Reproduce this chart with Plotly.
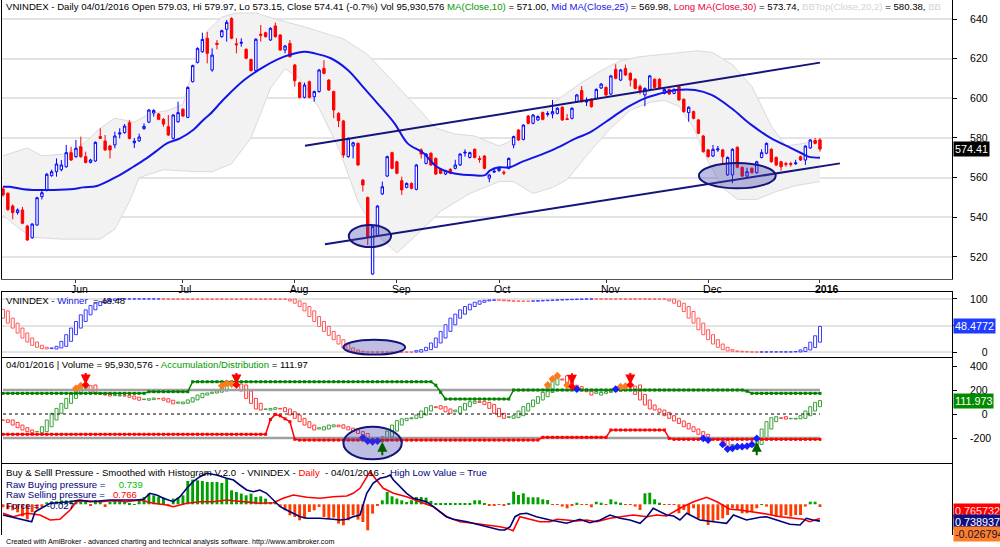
import plotly.graph_objects as go

# ---------------- price panel data (bar index 0 = first session shown) ----------------
price_open = [
    554.3, 552.1, 545.7, 542.4, 543.7, 535.6, 529.7, 536.1, 550.4, 553.8,
    561.0, 563.0, 564.0, 565.5, 572.6, 570.6, 575.6, 570.6, 567.7, 568.4,
    580.7, 578.5, 576.0, 576.5, 582.0, 582.7, 587.7, 577.6, 578.6, 584.7,
    588.0, 592.6, 592.1, 589.4, 585.7, 579.8, 588.2, 594.5, 590.4, 608.4,
    618.1, 623.5, 630.3, 614.3, 627.8, 631.1, 634.8, 640.3, 627.5, 627.8,
    624.7, 619.6, 614.0, 632.3, 633.1, 629.4, 636.5, 631.9, 624.4, 627.7,
    616.8, 607.9, 600.5, 608.4, 600.8, 603.4, 615.1, 609.2, 603.4, 592.4,
    588.6, 570.6, 576.0, 577.3, 558.8, 550.0, 511.4, 530.6, 551.8, 560.8,
    572.6, 568.0, 558.5, 555.1, 557.1, 554.1, 574.0, 567.2, 572.3, 569.7,
    564.2, 561.8, 564.2, 564.7, 566.4, 572.4, 570.2, 574.3, 569.6, 570.9,
    559.7, 562.8, 563.5, 562.7, 564.7, 576.5, 584.0, 579.3, 591.1, 587.4,
    589.1, 592.8, 591.9, 592.1, 592.4, 595.5, 589.7, 589.9, 598.3, 603.9,
    598.1, 599.5, 600.0, 605.2, 605.5, 602.2, 614.6, 609.2, 615.1, 612.6,
    609.6, 606.0, 601.7, 604.5, 609.6, 609.6, 602.5, 604.5, 602.5, 605.9,
    599.5, 592.8, 593.3, 589.1, 581.0, 574.0, 570.9, 574.0, 574.0, 561.4,
    561.4, 575.3, 565.2, 560.8, 564.7, 562.5, 570.2, 572.3, 574.3, 570.2,
    568.0, 567.1, 567.1, 567.0, 570.6, 568.9, 575.0, 578.7, 579.03,
]
price_high = [
    555.4, 552.6, 546.5, 544.5, 545.3, 536.2, 537.0, 550.3, 554.0, 562.4,
    564.0, 569.7, 568.9, 576.5, 575.6, 579.0, 580.7, 573.1, 569.5, 578.3,
    584.9, 581.5, 576.5, 583.2, 584.9, 587.0, 589.0, 580.0, 582.2, 587.4,
    594.6, 594.5, 592.6, 590.0, 591.6, 592.0, 598.3, 595.0, 606.0, 617.0,
    625.7, 633.1, 633.5, 625.2, 629.4, 634.6, 639.5, 640.8, 630.3, 630.3,
    625.2, 620.1, 630.3, 637.0, 633.6, 635.8, 638.2, 632.4, 626.9, 629.4,
    617.3, 608.4, 607.9, 608.9, 603.9, 614.8, 619.2, 609.7, 603.9, 593.0,
    589.1, 580.3, 578.1, 577.8, 559.3, 550.5, 535.8, 546.2, 558.0, 571.1,
    573.1, 568.5, 560.5, 557.6, 557.6, 566.9, 574.8, 572.4, 572.8, 570.2,
    564.7, 564.0, 564.7, 569.0, 572.4, 574.3, 573.1, 574.8, 571.0, 571.4,
    561.8, 565.0, 565.2, 563.7, 570.2, 581.2, 584.5, 587.0, 591.6, 592.1,
    591.3, 593.3, 593.5, 599.2, 595.5, 596.0, 592.1, 595.5, 602.2, 606.2,
    600.5, 600.0, 605.0, 607.7, 606.0, 611.8, 617.2, 614.8, 617.0, 613.1,
    610.1, 607.0, 605.5, 611.8, 610.1, 610.1, 605.0, 605.0, 605.0, 606.4,
    600.0, 596.0, 593.8, 589.6, 581.5, 574.5, 576.5, 576.0, 574.5, 570.7,
    574.8, 575.8, 565.7, 565.0, 565.2, 568.5, 574.3, 577.8, 574.8, 570.7,
    568.5, 568.0, 568.0, 569.0, 571.1, 576.4, 579.5, 580.0, 579.97,
]
price_low = [
    550.4, 543.2, 539.0, 541.4, 536.5, 528.0, 529.2, 535.8, 549.0, 553.0,
    560.5, 560.5, 563.2, 565.0, 568.4, 570.0, 570.0, 567.2, 567.2, 568.0,
    579.5, 573.5, 569.7, 574.8, 579.8, 582.2, 579.3, 575.0, 578.0, 584.2,
    587.5, 590.8, 589.0, 585.7, 581.0, 579.3, 587.7, 590.6, 590.0, 608.0,
    617.6, 623.0, 617.6, 613.4, 624.7, 630.6, 628.6, 629.8, 622.7, 626.0,
    619.7, 613.5, 613.5, 628.6, 630.6, 628.9, 630.6, 623.9, 622.7, 620.5,
    605.9, 600.0, 600.0, 600.0, 598.3, 602.9, 612.1, 603.7, 590.0, 585.5,
    570.0, 570.1, 569.7, 565.9, 553.0, 526.0, 511.0, 530.1, 551.3, 560.3,
    564.2, 561.7, 551.3, 554.6, 554.1, 553.6, 569.7, 566.7, 565.9, 561.3,
    561.7, 561.3, 561.7, 564.2, 565.9, 570.6, 569.7, 569.7, 567.5, 564.2,
    557.7, 562.3, 563.0, 561.3, 564.2, 574.8, 578.5, 578.8, 586.9, 586.9,
    588.6, 588.9, 590.8, 589.9, 591.9, 588.6, 589.1, 589.4, 597.8, 597.8,
    596.1, 595.3, 599.5, 604.7, 601.2, 601.7, 609.6, 608.7, 611.3, 606.0,
    604.5, 602.0, 596.0, 604.0, 605.0, 604.5, 602.0, 601.7, 602.0, 598.7,
    592.8, 588.2, 589.4, 581.9, 572.6, 570.1, 570.4, 573.0, 566.4, 560.9,
    557.2, 564.7, 560.3, 560.3, 562.0, 562.0, 569.7, 571.8, 567.5, 565.9,
    563.5, 565.5, 565.5, 566.5, 568.4, 566.4, 574.5, 576.8, 573.15,
]
price_close = [
    551.3, 544.0, 542.4, 543.7, 537.0, 528.6, 536.6, 549.9, 552.4, 561.7,
    563.0, 566.9, 566.4, 572.6, 568.9, 574.8, 570.6, 567.7, 568.9, 577.8,
    579.8, 574.0, 574.0, 581.0, 582.5, 586.0, 579.8, 578.4, 580.5, 585.9,
    594.1, 593.9, 589.4, 587.0, 581.5, 591.6, 592.8, 591.1, 605.5, 616.5,
    625.2, 629.7, 622.7, 621.8, 627.2, 634.1, 638.3, 630.3, 627.0, 628.2,
    620.2, 614.0, 629.8, 631.8, 631.1, 635.3, 631.1, 624.4, 626.4, 621.0,
    608.9, 600.5, 606.7, 600.5, 603.4, 614.3, 612.6, 604.2, 594.1, 588.7,
    571.4, 579.8, 577.6, 566.4, 556.3, 530.3, 535.3, 545.7, 555.4, 570.6,
    564.7, 562.2, 553.8, 557.1, 554.6, 566.4, 571.9, 571.9, 566.4, 561.8,
    562.2, 563.5, 562.2, 566.4, 571.9, 572.8, 572.6, 570.2, 569.2, 564.7,
    561.3, 563.2, 564.7, 562.3, 569.7, 580.7, 579.0, 586.5, 587.4, 591.6,
    590.8, 589.4, 592.3, 593.3, 595.0, 589.1, 589.3, 595.0, 601.7, 598.3,
    598.5, 595.8, 604.5, 607.2, 601.7, 611.3, 610.1, 614.3, 611.8, 609.2,
    605.0, 604.0, 605.0, 611.3, 605.5, 605.0, 604.5, 602.2, 604.5, 599.2,
    593.3, 595.5, 589.9, 582.4, 573.1, 570.6, 574.3, 574.5, 570.6, 570.2,
    574.3, 565.2, 560.8, 563.0, 562.5, 568.0, 572.6, 577.3, 568.0, 566.4,
    565.5, 566.7, 566.7, 567.4, 568.9, 575.9, 579.0, 577.3, 574.41,
]

# Mid MA(Close,25) read at points along the curve
mid_ma_idx = [0, 1.4, 4.2, 6.2, 13.8, 16.5, 19.3, 23.4, 26.8, 29.5,
              31.6, 33.7, 36.4, 39.1, 41.2, 42.6, 45.6, 49.6, 53.7, 57.8,
              61.9, 64, 67.4, 70.9, 74.3, 77, 80.5, 83.2, 86.5, 89.2,
              92.6, 96, 99.1, 100.1, 102, 104.1, 106.8, 109.6, 113.7, 117.8,
              120.6, 124, 126.7, 128.6, 132, 134.8, 138.5, 142.3, 145.7, 149.8,
              153.9, 158, 161.5, 164.2, 165.6, 168]
mid_ma = [555.4, 555.4, 554.1, 553.8, 554.1, 555.1, 555.8, 560.5, 565.5, 569.7,
          573.5, 577.3, 579.8, 584.0, 589.1, 592.1, 600.0, 609.2, 616.0, 621.0,
          623.5, 622.7, 620.2, 614.3, 605.0, 597.5, 587.4, 577.3, 572.3, 565.5,
          562.2, 561.3, 561.3, 563.5, 565.2, 565.2, 568.1, 570.6, 574.8, 579.8,
          582.7, 588.2, 592.8, 595.8, 600.0, 602.2, 604.2, 604.2, 601.7, 595.0,
          586.6, 579.8, 575.6, 572.3, 570.6, 569.98]

# Bollinger band edges
bb_top_idx = [0, 5, 8, 13, 17, 20, 23, 27, 30, 34, 37, 39, 42, 45, 48, 52, 56, 59, 62, 66,
              70, 75, 80, 85, 89, 93, 97, 102, 104, 107, 111, 115, 119, 123, 127, 131, 135,
              139, 143, 146, 150, 154, 158, 161, 164, 168]
bb_top = [571, 575, 571, 572, 578, 585, 590, 588, 592, 594, 597, 614, 634, 641, 643, 643, 640, 638, 636, 633,
          630, 622, 609, 596, 585, 582, 581, 576, 578, 585, 594, 601, 608, 614, 619, 621, 622,
          623, 624, 623, 617, 606, 586, 576, 577, 579]
bb_bot_idx = [0, 3, 6, 12, 20, 23, 26, 28, 33, 40, 43, 47, 51, 55, 58, 61, 65, 69, 73, 77,
              81, 85, 90, 96, 102, 105, 109, 113, 116, 121, 125, 129, 133, 136, 139, 142, 145,
              148, 151, 155, 159, 163, 168]
bb_bot = [541, 535, 530, 529, 529, 534, 548, 560, 564, 563, 563, 567, 580, 605, 615, 610, 595, 575, 548, 531,
          522, 531, 543, 552, 558, 558, 552, 555, 559, 574, 585, 594, 598, 599, 596, 585, 568,
          555, 549, 549, 553, 556, 558]

# hand-drawn channel lines and ellipses (bar index, price)
upper_trend_idx = [62.1, 168]
upper_trend = [576.1, 618.0]
lower_trend_idx = [66.2, 172.1]
lower_trend = [526.4, 567.2]
price_ellipses = [(71.1, 79.8, 525.0, 536.1), (143.1, 158.9, 554.6, 567.4)]

# ---------------- Winner panel ----------------
winner_start = [80.5, 77.6]
winner = [
    64, 54.7, 45.4, 36.1, 26.8, 19.3, 13.1, 9.4, 6.9, 6.3,
    8.2, 11.3, 20.6, 33, 45.4, 57.8, 70.2, 79.5, 87.6, 92,
    95, 96.9, 98.8, 100, 100, 100, 100, 100, 100, 100,
    100, 100, 100, 99.7, 99.7, 99.7, 99.7, 99.7, 99.7, 99.7,
    99.7, 99.7, 99.7, 99.7, 99.7, 99.7, 99.7, 99.7, 99.7, 99.7,
    99.7, 99.7, 99.7, 99.7, 99.7, 99.7, 99.7, 99.7, 99.7, 96.3,
    92, 85.8, 77.7, 67.1, 57.8, 48.5, 39.2, 31.8, 23.7, 15.6,
    8.2, 4.4, 2, 0.7, 0.5, 0.5, 0.5, 0.5, 0.5, 0.5,
    0.5, 0.5, 0.5, 0.5, 0.5, 3.2, 5, 9.4, 17.5, 26.8,
    39.2, 51.6, 64, 71.5, 79.5, 85.8, 90.1, 93.8, 96.3, 97.5,
    98.2, 98.2, 97.5, 96.5, 96.0, 95.8, 95.8, 95.8, 95.8, 96.3,
    96.8, 97.2, 97.6, 98.0, 98.4, 98.7, 99.0, 99.3, 99.6, 99.8,
    100, 100, 99.8, 99.8, 99.8, 99.8, 99.8, 99.8, 99.8, 99.8,
    99.8, 99.8, 99.8, 99.8, 99.8, 99.8, 99.8, 96.3, 92, 85.8,
    76.5, 64, 54.7, 42.3, 33, 23.7, 15.6, 9.4, 5, 2.6,
    2, 1.3, 0.8, 0.6, 0.5, 0.5, 0.8, 0.8, 0.8, 0.8,
    0.8, 0.8, 0.8, 1.5, 4.5, 9, 19, 31, 48.48,
]
winner_ellipse = (70, 82.7, -4.3, 23.6)

# ---------------- Volume / Accumulation-Distribution panel ----------------
ad_start = [-52, -48]
acc_dist = [
    -50, -70, -92, -114, -133, -147, -156, -147, -106, -50,
    6, 47, 89, 130, 172, 214, 236, 242, 178, 172,
    165, 158, 150, 153, 156, 150, 140, 125, 115, 120,
    128, 133, 128, 115, 100, 85, 90, 100, 118, 136,
    158, 172, 175, 182, 192, 236, 256, 250, 242, 192,
    130, 89, 42, 33, 39, 47, 53, 42, 19, -8,
    -36, -64, -92, -114, -133, -125, -106, -92, -90, -106,
    -118, -132, -146, -162, -197, -225, -231, -225, -189, -142,
    -92, -55, -40, -36, -31, -8, 25, 53, 69, 61,
    42, 19, 6, 33, 61, 89, 103, 106, 97, 80,
    47, 6, -22, -36, -30, -14, 25, 61, 89, 117,
    144, 180, 242, 292, 319, 283, 240, 228, 208, 192,
    186, 158, 172, 180, 186, 192, 208, 228, 232, 242,
    164, 117, 75, 42, 33, 14, -14, -36, -58, -78,
    -106, -125, -147, -169, -203, -217, -203, -208, -253, -292,
    -286, -272, -272, -267, -253, -203, -125, -64, -31, -22,
    -36, -42, -40, -36, -14, 25, 61, 97, 111.97,
]
ad_upper = [
    172, 172, 172, 172, 172, 172, 172, 172, 172, 172,
    172, 172, 172, 172, 172, 172, 172, 172, 172, 172,
    172, 172, 172, 172, 172, 172, 172, 172, 172, 172,
    186, 186, 186, 186, 186, 186, 186, 186, 186, 269,
    269, 269, 269, 269, 269, 269, 269, 269, 269, 269,
    269, 269, 269, 269, 269, 269, 269, 269, 269, 269,
    269, 269, 269, 269, 269, 269, 269, 269, 269, 269,
    269, 269, 269, 269, 269, 269, 269, 269, 269, 269,
    269, 269, 269, 269, 269, 269, 269, 269, 269, 240,
    180, 125, 125, 125, 125, 125, 125, 125, 125, 125,
    125, 125, 125, 125, 125, 200, 200, 200, 200, 200,
    200, 200, 200, 200, 200, 200, 200, 200, 200, 200,
    200, 200, 200, 200, 200, 200, 200, 200, 200, 200,
    200, 200, 200, 200, 200, 200, 200, 200, 200, 200,
    200, 200, 200, 200, 200, 200, 200, 200, 200, 200,
    200, 200, 200, 190, 172, 172, 172, 172, 172, 172,
    172, 172, 172, 172, 172, 172, 172, 172, 172,
]
ad_lower = [
    -169, -169, -169, -169, -169, -169, -169, -169, -169, -169,
    -169, -169, -169, -169, -169, -169, -169, -169, -169, -169,
    -169, -169, -169, -169, -169, -169, -169, -169, -169, -169,
    -169, -169, -169, -169, -169, -169, -169, -169, -169, -169,
    -169, -169, -169, -169, -169, -169, -169, -169, -169, -169,
    -169, -169, -169, -169, -169, -45, -3, -15, -40, -64,
    -210, -217, -217, -217, -217, -217, -217, -217, -217, -217,
    -217, -217, -217, -217, -217, -217, -217, -217, -217, -217,
    -217, -217, -217, -217, -217, -217, -217, -217, -217, -217,
    -217, -217, -217, -217, -217, -217, -217, -217, -217, -217,
    -217, -217, -217, -217, -217, -217, -217, -217, -217, -217,
    -217, -194, -194, -194, -194, -194, -194, -194, -194, -194,
    -194, -194, -194, -194, -194, -133, -133, -133, -133, -133,
    -133, -133, -133, -133, -133, -133, -133, -203, -211, -211,
    -211, -211, -211, -211, -211, -211, -211, -211, -211, -211,
    -211, -211, -211, -211, -211, -211, -211, -211, -211, -211,
    -211, -211, -211, -211, -211, -211, -211, -211, -211,
]
orange_dot_idx = [15, 16, 45, 46, 47, 112, 113, 114, 116, 127, 128]
blue_dot_idx = [74, 75, 76, 77, 118, 126, 144, 145, 148, 149, 150, 151, 152, 153, 154, 155]
sell_arrow_idx = [17, 48, 117, 129]
sell_arrow_tip = [246, 246, 244, 246]
buy_arrow_idx = [78, 155]
buy_arrow_tip = [-230, -230]
ad_ellipse = (70, 82, -377, -106)

# ---------------- Buy & Sell pressure panel ----------------
force = [
    -0.03, -0.05, -0.06, -0.08, -0.12, -0.15, -0.08, -0.05, -0.03, 0.02,
    0.03, 0.03, 0.04, 0.04, 0.04, 0.04, 0.04, 0.04, -0.01, 0.04,
    0.023, -0.027, 0.023, 0.04, 0.04, 0.023, 0.013, 0.003, 0.04, 0.073,
    0.107, 0.09, 0.073, 0.067, -0.02, 0.057, 0.067, 0.09, 0.233, 0.247,
    0.24, 0.233, 0.223, 0.223, 0.223, 0.213, 0.257, 0.14, 0.123, 0.107,
    0.09, 0.107, 0.073, 0.08, 0.057, 0.023, 0.023, -0.027, -0.06, -0.11,
    -0.127, -0.16, -0.143, -0.077, -0.06, -0.027, -0.127, -0.143, -0.133, -0.193,
    -0.21, -0.16, -0.11, -0.153, -0.177, -0.26, -0.093, -0.01, 0.04, 0.123,
    0.08, 0.057, 0.04, 0.023, 0.04, 0.073, 0.073, 0.067, 0.033, 0.007,
    0.013, 0.013, 0.013, 0.013, 0.013, 0.013, 0.007, 0.04, 0.04, 0.013,
    -0.01, -0.01, -0.007, -0.017, 0.01, 0.127, 0.093, 0.11, 0.07, 0.07,
    0.07, 0.05, 0.043, -0.007, -0.007, -0.023, -0.04, -0.017, 0.016, -0.007,
    -0.007, -0.03, 0.026, 0.016, -0.007, 0.05, 0.026, 0.016, -0.007, -0.007,
    -0.023, -0.057, 0.11, 0.116, 0.05, 0.016, -0.003, -0.003, -0.003, -0.09,
    -0.057, -0.097, -0.04, -0.14, -0.157, -0.207, -0.173, -0.157, -0.14, -0.107,
    -0.04, -0.057, -0.09, -0.09, -0.073, -0.04, 0.003, -0.023, -0.107, -0.123,
    -0.123, -0.107, -0.123, -0.107, -0.107, -0.023, 0.026, 0.026, -0.027,
]
buy_idx = [0, 2.1, 4.9, 5.9, 6.6, 9.7, 13.8, 15.8, 17.9, 19.9,
           22, 27.5, 28.9, 30.2, 31.6, 33, 35, 36.4, 37.8, 39.1,
           40.5, 41.9, 43.9, 46, 47.4, 48.7, 50.1, 51.5, 52.8, 54.2,
           55.6, 57, 58.3, 59.7, 61.1, 62.5, 65.2, 67.9, 69.3, 70.7,
           72, 73.4, 74.1, 74.8, 76.1, 77.5, 78.9, 79.6, 80.3, 81.6,
           83, 84.4, 85.7, 87.1, 88.5, 89.9, 91.2, 92.6, 95.4, 98.1,
           100.8, 102.2, 103.2, 104.3, 105.3, 106.3, 107.7, 109.7, 112.5, 115.9,
           118.6, 120.7, 122.8, 124.8, 126.9, 128.9, 131, 132.4, 133.7, 135.1,
           136.5, 137.9, 139.2, 140.6, 142, 143.3, 146.1, 148.8, 150.2, 152.9,
           155.7, 157, 159.1, 161.8, 163.9, 165.2, 166.6, 168]
buy_pressure = [0.80, 0.777, 0.75, 0.733, 0.833, 0.917, 0.933, 0.95, 0.933, 0.943,
                0.95, 0.95, 0.957, 1.017, 1.0, 0.967, 0.933, 0.983, 1.067, 1.133,
                1.183, 1.217, 1.2, 1.167, 1.15, 1.1, 1.05, 1.033, 1.05, 1.017,
                0.95, 0.883, 0.85, 0.817, 0.783, 0.767, 0.767, 0.757, 0.75, 0.757,
                0.783, 0.80, 0.917, 1.017, 1.117, 1.167, 1.183, 1.2, 1.15, 1.083,
                1.017, 0.967, 0.95, 0.933, 0.883, 0.833, 0.783, 0.757, 0.733, 0.70,
                0.667, 0.65, 0.65, 0.683, 0.783, 0.81, 0.817, 0.783, 0.75, 0.717,
                0.757, 0.723, 0.75, 0.80, 0.767, 0.75, 0.717, 0.783, 0.867, 0.833,
                0.80, 0.79, 0.75, 0.817, 0.783, 0.75, 0.733, 0.717, 0.80, 0.75,
                0.777, 0.783, 0.75, 0.707, 0.70, 0.767, 0.75, 0.739]
sell_idx = [0, 2.1, 4.9, 7.6, 9.7, 11.7, 13.8, 15.1, 17.2, 19.9,
            22.7, 25.4, 28.2, 30.9, 33.7, 35, 37.8, 40.5, 43.2, 46,
            47.4, 50.1, 52.8, 55.6, 57.6, 59.7, 62.5, 65.2, 67.9, 70.7,
            72, 73.4, 74.8, 75.5, 76.8, 78.2, 80.3, 83, 85.7, 88.5,
            91.2, 94, 96.7, 99.5, 102.2, 103.6, 104.9, 106.3, 107.7, 110.4,
            112.5, 113.9, 115.9, 118, 120, 122.1, 124.8, 126.9, 129.6, 132.4,
            134.4, 136.5, 139.2, 142, 144.7, 146.8, 149.5, 151.5, 154.3, 157,
            159.8, 162.5, 164.6, 165.9, 168]
sell_pressure = [0.817, 0.783, 0.817, 0.80, 0.75, 0.757, 0.85, 0.933, 0.943, 0.933,
                 0.943, 0.933, 0.95, 0.917, 0.90, 0.883, 0.917, 0.933, 0.933, 0.95,
                 0.943, 0.933, 0.917, 0.923, 0.967, 1.0, 0.977, 0.967, 0.983, 0.99,
                 1.017, 1.067, 1.183, 1.233, 1.15, 1.067, 1.017, 0.983, 0.933, 0.883,
                 0.783, 0.733, 0.717, 0.70, 0.683, 0.667, 0.643, 0.783, 0.767, 0.733,
                 0.733, 0.757, 0.75, 0.74, 0.75, 0.733, 0.767, 0.783, 0.80, 0.783,
                 0.80, 0.79, 0.867, 0.933, 0.977, 0.933, 0.857, 0.85, 0.833, 0.81,
                 0.783, 0.767, 0.757, 0.733, 0.766]

# month ticks
month_idx = [15, 37, 60, 81, 102, 124, 145, 168]
month_text = ["Jun", "Jul", "Aug", "Sep", "Oct", "Nov", "Dec", "<b>2016</b>"]

bars = list(range(len(price_close)))
FONT = "Liberation Sans, Arial, sans-serif"


def box_parts(values, start, up_color, down_color):
    # hollow boxes spanning two sessions back to the current value, coloured by direction
    seq = list(start) + list(values)
    bases, heights, colors = [], [], []
    last = down_color
    for i, v in enumerate(values):
        prev1, prev2 = seq[i + 1], seq[i]
        if v > prev1:
            last = up_color
        elif v < prev1:
            last = down_color
        bases.append(min(prev2, v))
        heights.append(abs(v - prev2))
        colors.append(last)
    return bases, heights, colors


def path_of(xs, ys, close=False):
    pts = " L ".join(f"{x},{y}" for x, y in zip(xs, ys))
    return "M " + pts + (" Z" if close else "")


fig = go.Figure()

# ---- panel 1: price ----
fig.add_trace(go.Candlestick(x=bars, open=price_open, high=price_high, low=price_low,
                             close=price_close, xaxis="x", yaxis="y", whiskerwidth=0,
                             increasing=dict(line=dict(color="#0000ff", width=1), fillcolor="white"),
                             decreasing=dict(line=dict(color="#ff0000", width=1), fillcolor="#ff0000")))
fig.add_trace(go.Scatter(x=mid_ma_idx, y=mid_ma, mode="lines", line_shape="spline",
                         line=dict(color="#1414e6", width=2), xaxis="x", yaxis="y"))
for tx, ty in [(upper_trend_idx, upper_trend), (lower_trend_idx, lower_trend)]:
    fig.add_trace(go.Scatter(x=tx, y=ty, mode="lines", line=dict(color="#14147a", width=2),
                             xaxis="x", yaxis="y"))

# ---- panel 2: winner ----
w_base, w_height, w_col = box_parts(winner, winner_start, "#3a3aff", "#ff5a5a")
fig.add_trace(go.Bar(x=bars, y=w_height, base=w_base, width=0.62, xaxis="x2", yaxis="y2",
                     marker=dict(color="white", line=dict(color=w_col, width=1))))

# ---- panel 3: volume / accumulation-distribution ----
span = [bars[0], bars[-1]]
fig.add_trace(go.Scatter(x=span, y=[200, 200], mode="lines", line=dict(color="#a0a0a0", width=2.5),
                         xaxis="x3", yaxis="y3"))
fig.add_trace(go.Scatter(x=span, y=[-200, -200], mode="lines", line=dict(color="#a0a0a0", width=2.5),
                         xaxis="x3", yaxis="y3"))
fig.add_trace(go.Scatter(x=span, y=[0, 0], mode="lines", line=dict(color="black", width=1, dash="dot"),
                         xaxis="x3", yaxis="y3"))
a_base, a_height, a_col = box_parts(acc_dist, ad_start, "#3aa03a", "#ff3a3a")
fig.add_trace(go.Bar(x=bars, y=a_height, base=a_base, width=0.62, xaxis="x3", yaxis="y3",
                     marker=dict(color="white", line=dict(color=a_col, width=1))))
fig.add_trace(go.Scatter(x=bars, y=ad_upper, mode="lines+markers", line=dict(color="#008000", width=1.5),
                         marker=dict(symbol="square", size=3, color="#008000"), xaxis="x3", yaxis="y3"))
fig.add_trace(go.Scatter(x=bars, y=ad_lower, mode="lines+markers", line=dict(color="#ff0000", width=1.5),
                         marker=dict(symbol="square", size=3, color="#ff0000"), xaxis="x3", yaxis="y3"))
fig.add_trace(go.Scatter(x=orange_dot_idx, y=[acc_dist[i] for i in orange_dot_idx], mode="markers",
                         marker=dict(symbol="diamond", size=6, color="#ff7a1a"), xaxis="x3", yaxis="y3"))
fig.add_trace(go.Scatter(x=blue_dot_idx, y=[acc_dist[i] for i in blue_dot_idx], mode="markers",
                         marker=dict(symbol="diamond", size=6, color="#1a1aff"), xaxis="x3", yaxis="y3"))
fig.add_trace(go.Scatter(x=sell_arrow_idx, y=[acc_dist[i] for i in sell_arrow_idx], mode="markers",
                         marker=dict(symbol="diamond", size=6, color="#ff0000"), xaxis="x3", yaxis="y3"))

# ---- panel 4: buy & sell pressure ----
fig.add_trace(go.Bar(x=bars, y=force, width=0.6, xaxis="x4", yaxis="y4",
                     marker=dict(color=["#00a000" if f >= 0 else "#ff3c00" for f in force], line=dict(width=0))))
fig.add_trace(go.Scatter(x=sell_idx, y=sell_pressure, mode="lines", line=dict(color="#ff0000", width=1.6),
                         xaxis="x4", yaxis="y5"))
fig.add_trace(go.Scatter(x=buy_idx, y=buy_pressure, mode="lines", line=dict(color="#00007a", width=1.6),
                         xaxis="x4", yaxis="y5"))

shapes = []
# Bollinger band: grey fill and faint edges, under the candles
shapes.append(dict(type="path", xref="x", yref="y", layer="between",
                   path=path_of(bb_top_idx + bb_bot_idx[::-1], bb_top + bb_bot[::-1], close=True),
                   fillcolor="#f2f2f2", line=dict(width=0)))
for bx, by in [(bb_top_idx, bb_top), (bb_bot_idx, bb_bot)]:
    shapes.append(dict(type="path", xref="x", yref="y", layer="between", path=path_of(bx, by),
                       line=dict(color="#dadada", width=1)))
# ellipses
for (x0, x1, y0, y1), ax in [(price_ellipses[0], "y"), (price_ellipses[1], "y"),
                             (winner_ellipse, "y2"), (ad_ellipse, "y3")]:
    xr = {"y": "x", "y2": "x2", "y3": "x3"}[ax]
    shapes.append(dict(type="circle", xref=xr, yref=ax, x0=x0, x1=x1, y0=y0, y1=y1,
                       fillcolor="rgba(70,70,175,0.35)", line=dict(color="#14147a", width=2), layer="above"))

annotations = []


def ptxt(px):
    return 1 - px / 547.0


def label(text, px, size=10, color="black", x=0.002):
    annotations.append(dict(text=text, xref="paper", yref="paper", x=x, y=ptxt(px),
                            xanchor="left", yanchor="middle", showarrow=False,
                            font=dict(family=FONT, size=size, color=color)))


label("VNINDEX - Daily 04/01/2016 Open 579.03, Hi 579.97, Lo 573.15, Close 574.41 (-0.7%) Vol 95,930,576 "
      "<span style='color:#009a00'>MA(Close,10)</span> = 571.00, "
      "<span style='color:#1414e6'>Mid MA(Close,25)</span> = 569.98, "
      "<span style='color:#e8003c'>Long MA(Close,30)</span> = 573.74, "
      "<span style='color:#d4d4d4'>BBTop(Close,20,2)</span> = 580.38, "
      "<span style='color:#d4d4d4'>BB</span>", 6.5, size=9.6)
label("VNINDEX - <span style='color:#1414e6'>Winner</span>\u00a0 = 48.48", 300, size=9.6)
label("04/01/2016 | Volume = 95,930,576 - <span style='color:#009a00'>Accumulation/Distribution</span> = 111.97",
      364, size=9.6)
label("Buy &amp; Selll Pressure - Smoothed with Histogram V.2.0\u00a0 - VNINDEX - "
      "<span style='color:#ff0000'>Daily</span>\u00a0 - 04/01/2016 -\u00a0 "
      "<span style='color:#00007a'>High Low Value = True</span>", 472.5, size=9.6)
label("Raw Buying pressure =\u00a0\u00a0\u00a0\u00a0 <span style='color:#00c000'>0.739</span>", 484, size=9.6, color="#00007a")
label("Raw Selling pressure =\u00a0\u00a0 <span style='color:#ff0000'>0.766</span>", 494.5, size=9.6, color="#00007a")
label("Force =\u00a0\u00a0 -0.027", 505, size=9.6, color="#00007a")
label("Created with AmiBroker - advanced charting and technical analysis software. http://www.amibroker.com",
      541, size=7.2)

# value flags in the right margin
flag_x = (953 - 2) / 950.0
for text, yref, yv, bg, fg in [("574.41", "y", 574.41, "#000000", "white"),
                               ("48.4772", "y2", 48.4772, "#1e3cff", "white"),
                               ("111.973", "y3", 111.973, "#008a00", "white"),
                               ("0.765732", "paper", ptxt(510.5), "#ff0000", "#ffe0e0"),
                               ("0.738937", "paper", ptxt(522), "#101080", "white"),
                               ("-0.026794", "paper", ptxt(533.5), "#ff7f27", "#101040")]:
    annotations.append(dict(text=text, xref="paper", yref=yref, x=flag_x, y=yv, xanchor="left",
                            yanchor="middle", showarrow=False, bgcolor=bg, borderpad=1,
                            font=dict(family=FONT, size=10.8, color=fg)))

# signal arrows on the accumulation/distribution panel
for i, tip in zip(sell_arrow_idx, sell_arrow_tip):
    annotations.append(dict(x=i, y=tip, xref="x3", yref="y3", text="", showarrow=True, arrowhead=2,
                            arrowsize=1, arrowwidth=2, arrowcolor="#ff0000", ax=0, ay=-13))
for i, tip in zip(buy_arrow_idx, buy_arrow_tip):
    annotations.append(dict(x=i, y=tip, xref="x3", yref="y3", text="", showarrow=True, arrowhead=2,
                            arrowsize=1, arrowwidth=2, arrowcolor="#006000", ax=0, ay=15))

x_range = [-0.206, 195.15]
yaxis_common = dict(side="right", showline=True, linecolor="black", linewidth=1, mirror=True,
                    ticks="outside", ticklen=4, tickcolor="black", zeroline=False,
                    tickfont=dict(family=FONT, size=10.5, color="black"), ticklabelstandoff=11)
xaxis_sub = dict(matches="x", range=x_range, showticklabels=False, ticks="", showgrid=False, zeroline=False)

fig.update_layout(
    width=1000, height=547, margin=dict(l=2, r=48, t=0, b=0),
    paper_bgcolor="white", plot_bgcolor="white", showlegend=False, hovermode=False,
    barmode="overlay", font=dict(family=FONT, size=10, color="black"),
    shapes=shapes, annotations=annotations,
    xaxis=dict(domain=[0, 1], anchor="y", range=x_range, tickvals=month_idx, ticktext=month_text,
               ticks="outside", ticklen=3, tickcolor="#333", ticklabelposition="outside right",
               ticklabelshift=-6, tickfont=dict(family=FONT, size=10.5, color="black"),
               showline=True, linecolor="#555", showgrid=False, zeroline=False,
               rangeslider=dict(visible=False)),
    yaxis=dict(domain=[1 - 279 / 547, 1], anchor="x", range=[508.9, 649.58],
               tickvals=[520, 540, 560, 580, 600, 620, 640], showgrid=True,
               gridcolor="#e4e4e4", gridwidth=1.5, **yaxis_common),
    xaxis2=dict(domain=[0, 1], anchor="y2", showline=True, linecolor="black", mirror=True, **xaxis_sub),
    yaxis2=dict(domain=[1 - 357 / 547, 1 - 292 / 547], anchor="x2", range=[-8.75, 113.0],
                tickvals=[0, 50, 100], ticktext=["\u2007\u20070", "", "100"], showgrid=True,
                gridcolor="#e4e4e4", gridwidth=1.5, **yaxis_common),
    xaxis3=dict(domain=[0, 1], anchor="y3", showline=True, linecolor="black", **xaxis_sub),
    yaxis3=dict(domain=[1 - 463 / 547, 1 - 357 / 547], anchor="x3", range=[-408, 475],
                tickvals=[-200, 0, 200, 400], ticktext=["-200", "\u2007\u20070", "200", "400"],
                showgrid=False, **yaxis_common),
    xaxis4=dict(domain=[0, 1], anchor="y4", showline=False, **xaxis_sub),
    yaxis4=dict(domain=[1 - 535 / 547, 1 - 464 / 547], anchor="x4", range=[-0.307, 0.403],
                showticklabels=False, ticks="", showgrid=False, zeroline=False,
                side="right", showline=True, linecolor="black", mirror=True),
    yaxis5=dict(overlaying="y4", anchor="x4", range=[0.60, 1.31], visible=False, side="right"),
)

# the page's default body margin would push the figure 8px off the window
fig.write_html("out.html", config={"displayModeBar": False},
               post_script="document.body.style.margin='0';document.body.style.overflow='hidden';")
